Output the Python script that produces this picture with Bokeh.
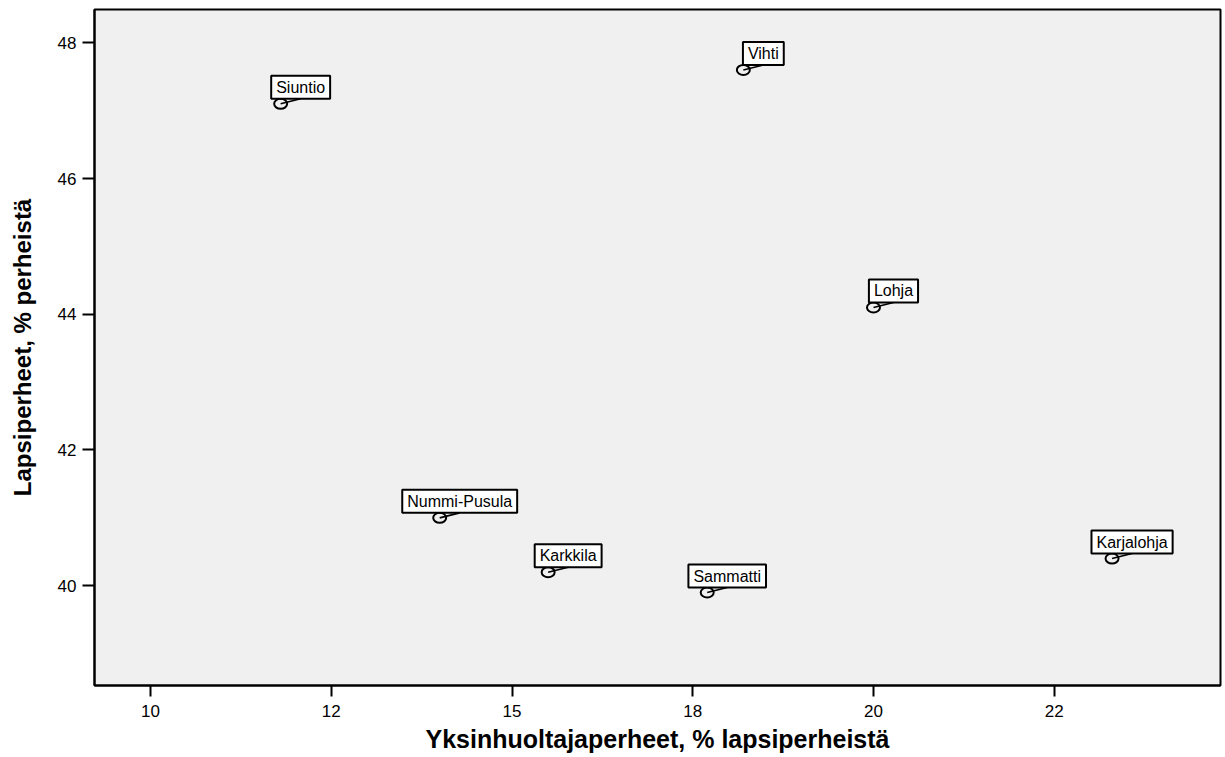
from bokeh.plotting import figure
from bokeh.models import Range1d, FixedTicker, ColumnDataSource
from bokeh.core.properties import value
from bokeh.embed import file_html
from bokeh.resources import INLINE

# ---- data -------------------------------------------------------------
municipalities = ["Siuntio", "Vihti", "Lohja", "Nummi-Pusula", "Karkkila", "Sammatti", "Karjalohja"]
single_parent_pct = [11.8, 18.2, 20.0, 14.0, 15.5, 17.7, 23.3]
families_with_children_pct = [47.1, 47.6, 44.1, 41.0, 40.2, 39.9, 40.4]

x_ticks = [10, 12.5, 15, 17.5, 20, 22.5]
x_tick_labels = ["10", "12", "15", "18", "20", "22"]
y_ticks = [40, 42, 44, 46, 48]

x_title = "Yksinhuoltajaperheet, % lapsiperheistä"
y_title = "Lapsiperheet, % perheistä"

# ---- layout / style ---------------------------------------------------
X_RANGE = (9.225, 24.8)
Y_RANGE = (38.53, 48.49)
FRAME_W, FRAME_H = 1126, 676
LABEL_DX, LABEL_DY = 20, 5  # label box bottom-centre offset from point (px)
FONT = "Liberation Sans"

p = figure(
    frame_width=FRAME_W, frame_height=FRAME_H,
    x_range=Range1d(*X_RANGE), y_range=Range1d(*Y_RANGE),
    output_backend="svg", toolbar_location=None,
    min_border_left=94, min_border_top=9, min_border_right=4, min_border_bottom=0,
    background_fill_color="#F0F0F0", border_fill_color="white",
)
p.outline_line_color = "black"
p.outline_line_width = 2
p.xgrid.visible = False
p.ygrid.visible = False

# axes
p.xaxis.ticker = FixedTicker(ticks=x_ticks)
p.xaxis.major_label_overrides = {t: l for t, l in zip(x_ticks, x_tick_labels)}
p.yaxis.ticker = FixedTicker(ticks=y_ticks)
for ax in (p.xaxis[0], p.yaxis[0]):
    ax.axis_line_color = "black"
    ax.axis_line_width = 2
    ax.major_tick_line_color = "black"
    ax.major_tick_line_width = 2
    ax.major_tick_in = 0
    ax.minor_tick_line_color = None
    ax.major_label_text_font = FONT
    ax.major_label_text_font_size = "17px"
    ax.major_label_text_color = "black"
    ax.axis_label_text_font = FONT
    ax.axis_label_text_font_style = "bold"
    ax.axis_label_text_color = "black"

p.xaxis.axis_label = x_title
p.xaxis.major_tick_out = 11
p.xaxis.major_label_standoff = 8
p.xaxis.axis_label_standoff = 5
p.xaxis.axis_label_text_font_size = "25px"

p.yaxis.axis_label = y_title
p.yaxis.major_tick_out = 12
p.yaxis.major_label_standoff = 6
p.yaxis.axis_label_standoff = 19
p.yaxis.axis_label_text_font_size = "24px"

# ---- marks ------------------------------------------------------------
sx = (X_RANGE[1] - X_RANGE[0]) / FRAME_W
sy = (Y_RANGE[1] - Y_RANGE[0]) / FRAME_H
src = ColumnDataSource(dict(
    x=single_parent_pct,
    y=families_with_children_pct,
    name=municipalities,
    x1=[v + LABEL_DX * sx for v in single_parent_pct],
    y1=[v + LABEL_DY * sy for v in families_with_children_pct],
))

p.segment(x0="x", y0="y", x1="x1", y1="y1", source=src, line_color="black", line_width=1.6)
p.ellipse(x="x", y="y", width=13, height=10, width_units="screen", height_units="screen",
          source=src, fill_color=None, line_color="black", line_width=2)
p.text(x="x", y="y", text="name", source=src,
       x_offset=LABEL_DX, y_offset=-LABEL_DY, anchor="bottom_center",
       text_align="center", text_baseline="middle",
       text_font=value(FONT), text_font_size="16px", text_color="black",
       background_fill_color="white", border_line_color="black", border_line_width=2,
       padding=(5, 3))

open("out.html", "w").write(file_html(p, INLINE))
